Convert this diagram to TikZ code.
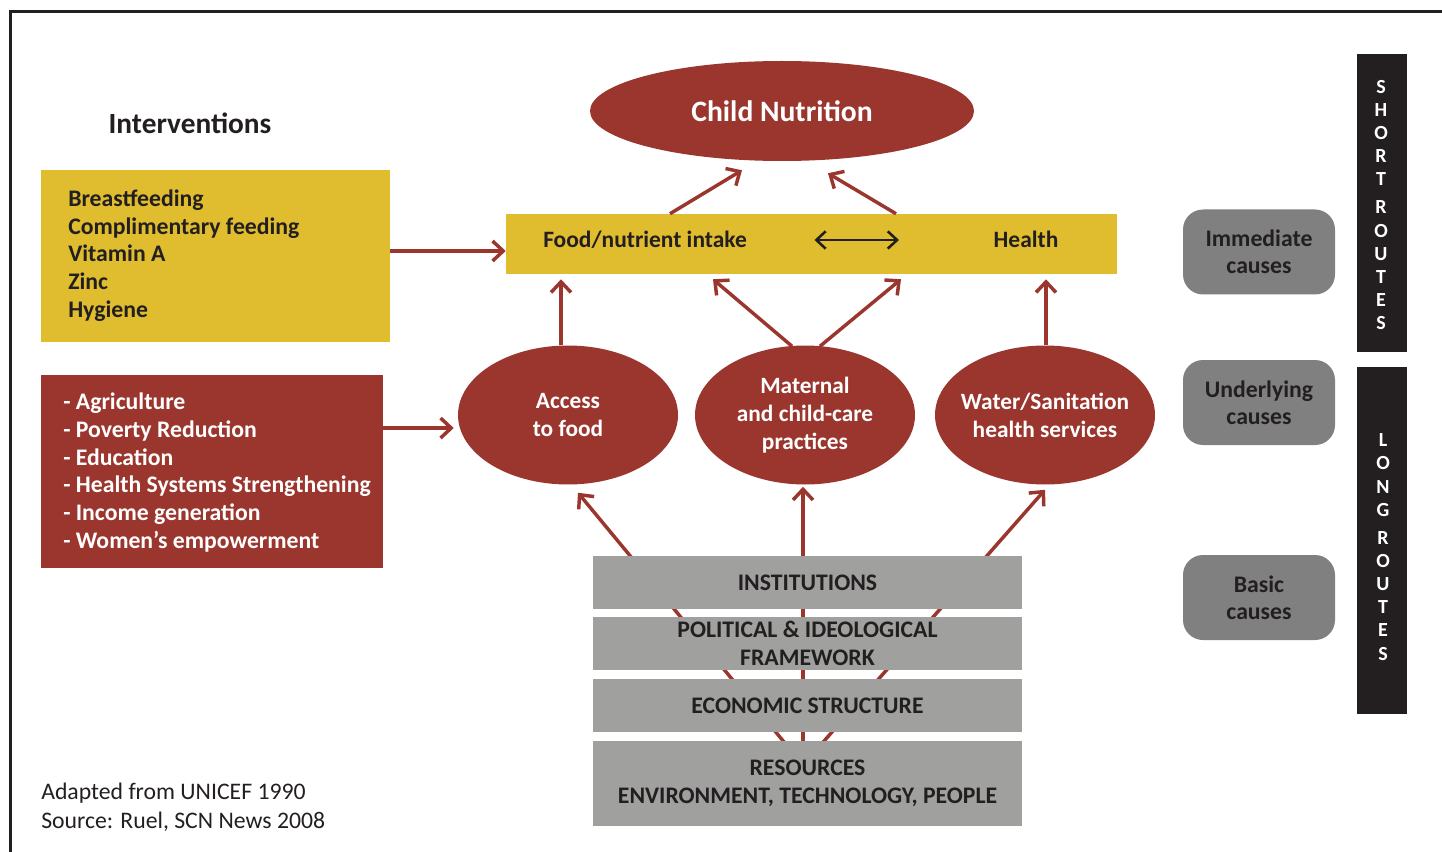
\documentclass[tikz,border=0pt]{standalone}
\usepackage{fontspec}
\setmainfont{Carlito}
\usetikzlibrary{shapes.geometric,arrows.meta,calc}
\definecolor{nutred}{rgb}{0.608,0.212,0.180}
\definecolor{intyellow}{rgb}{0.878,0.737,0.184}
\definecolor{basegray}{rgb}{0.627,0.627,0.624}
\definecolor{causegray}{rgb}{0.502,0.502,0.502}
\definecolor{darktext}{rgb}{0.137,0.122,0.125}

\begin{document}
\begin{tikzpicture}[x=0.75pt,y=0.75pt,yscale=-1,xscale=1,
  redarrow/.style={draw=nutred,line width=2.6pt,-{Straight Barb[length=8pt,width=15pt]}},
  listtext/.style={anchor=west,inner sep=0pt,align=left,font=\fontsize{17.8}{20.8}\selectfont\bfseries},
  causeoval/.style={ellipse,fill=nutred,inner sep=0pt,inner xsep=-20pt,minimum width=165pt,minimum height=104.25pt,align=center,text=white,font=\fontsize{17.5}{21}\selectfont\bfseries},
  basebox/.style={fill=basegray,inner sep=0pt,minimum width=321.75pt,minimum height=39.75pt,align=center,text=darktext,font=\fontsize{17.8}{20.5}\selectfont\bfseries},
  levelbox/.style={fill=causegray,rounded corners=15pt,inner sep=0pt,minimum width=114pt,minimum height=63.75pt,align=center,text=darktext,font=\fontsize{17.8}{20.3}\selectfont\bfseries},
  routebar/.style={fill=darktext,inner sep=0pt,minimum width=37.5pt},
  routetext/.style={inner sep=0pt,align=center,text=white,font=\fontsize{15}{17.4}\selectfont\bfseries}
]
\useasboundingbox (0,0) rectangle (1442,852);

%Shape: Frame
\draw [color=darktext,line width=1.9pt] (10.5,852) -- (10.5,11.5) -- (1442,11.5) ;

% Text Node
\node (interv) at (190,123) [text=darktext,font=\fontsize{22}{26}\selectfont\bfseries] {Interventions};

%Shape: Rectangle (nutrition interventions)
\node (nutint) at (215.5,256) [fill=intyellow,inner sep=0pt,minimum width=261.75pt,minimum height=129pt] {};
\node (nutlist) at (68,255.5) [listtext,text=darktext] {Breastfeeding\\Complimentary feeding\\Vitamin A\\Zinc\\Hygiene};
%Shape: Rectangle (sensitive interventions)
\node (sensint) at (212,471.5) [fill=nutred,inner sep=0pt,minimum width=256.5pt,minimum height=144.75pt] {};
\node (senslist) at (63,472.5) [listtext,text=white] {- Agriculture\\- Poverty Reduction\\- Education\\- Health Systems Strengthening\\- Income generation\\- Women’s empowerment};

%Flowchart: Connector (outcome)
\node (nutrition) at (782,111) [ellipse,fill=nutred,inner sep=0pt,minimum width=288pt,minimum height=75pt,text=white,font=\fontsize{22.2}{26}\selectfont\bfseries] {Child Nutrition};

%Shape: Rectangle (immediate)
\node (intake) at (811.5,244) [fill=intyellow,inner sep=0pt,minimum width=458.25pt,minimum height=45pt] {};
\node (food) at (645,240) [text=darktext,font=\fontsize{17.6}{21}\selectfont\bfseries] {Food/nutrient intake};
\node (health) at (1026,239) [text=darktext,font=\fontsize{17.6}{21}\selectfont\bfseries] {Health};
\draw [darktext,line width=1.9pt,{Straight Barb[length=7pt,width=13pt]}-{Straight Barb[length=7pt,width=13pt]}] ($(food.east)+(63,0)$) -- ($(health.west)+(-90,1)$) ;

%Flowchart: Connector (underlying)
\node (access) at (568,415) [causeoval] {Access\\to food};
\node (maternal) at (805,415) [causeoval] {Maternal\\and child-care\\practices};
\node (water) at (1045,415) [causeoval] {Water/Sanitation\\health services};

% arrows up
\draw [redarrow] ($(intake.north)+(-141.5,0)$) -- ($(nutrition.south)+(-40,9)$) ;
\draw [redarrow] ($(intake.north)+(84.5,0)$) -- ($(nutrition.south)+(46,12)$) ;
\draw [redarrow] ($(access.north)+(-7,0)$) -- ($(intake.south)+(-250.5,5)$) ;
\draw [redarrow] ($(maternal.north)+(-13,1)$) -- ($(intake.south)+(-98.5,5)$) ;
\draw [redarrow] ($(maternal.north)+(15,1)$) -- ($(intake.south)+(89.5,5)$) ;
\draw [redarrow] ($(water.north)+(1,0)$) -- ($(intake.south)+(234.5,5)$) ;
\draw [redarrow] ([yshift=-3.75pt]nutint.east) -- ([yshift=-3.75pt]nutint.east -| intake.west) ;
\draw [redarrow] ([yshift=-32.6pt]sensint.east) -- ($([yshift=-32.6pt]sensint.east -| access.west)+(-4,0)$) ;

% arrows from the basic causes
\coordinate (base) at (803,765);
\draw [redarrow] (base) -- ($(access.south)+(10,8)$) ;
\draw [redarrow] (base) -- ($(maternal.south)+(-2,2)$) ;
\draw [redarrow] (base) -- ($(water.south)+(0,5)$) ;

%Shape: Rectangle (basic)
\node (inst) at (807.5,582.5) [basebox] {INSTITUTIONS};
\node (polit) at (807.5,643.5) [basebox] {POLITICAL \& IDEOLOGICAL\\FRAMEWORK};
\node (econ) at (807.5,705.5) [basebox] {ECONOMIC STRUCTURE};
\node (resources) at (807.5,783.5) [basebox,minimum height=63.75pt,font=\fontsize{17.8}{21}\selectfont\bfseries] {RESOURCES\\ENVIRONMENT, TECHNOLOGY, PEOPLE};

%Shape: Rounded Rectangle (levels)
\node (immediate) at (1259,252) [levelbox] {Immediate\\causes};
\node (underlying) at (1259,402.5) [levelbox] {Underlying\\causes};
\node (basic) at (1259,597.5) [levelbox] {Basic\\causes};

%Shape: Rectangle (routes)
\node (short) at (1382,203) [routebar,minimum height=223.5pt] {};
\node (shorttext) at (1381,205) [routetext] {S\\H\\O\\R\\T\\[3.5pt]R\\O\\U\\T\\E\\S};
\node (long) at (1382,540.5) [routebar,minimum height=260.25pt] {};
\node (longtext) at (1383,547) [routetext] {L\\O\\N\\G\\[3.5pt]R\\O\\U\\T\\E\\S};

% Text Node
\node (adapted) at (41,793) [anchor=west,inner sep=0pt,text=darktext,font=\fontsize{17.8}{20}\selectfont] {Adapted from UNICEF 1990};
\node (source) at (41,822) [anchor=west,inner sep=0pt,text=darktext,font=\fontsize{17.8}{20}\selectfont] {Source: Ruel, SCN News 2008};

\end{tikzpicture}
\end{document}
